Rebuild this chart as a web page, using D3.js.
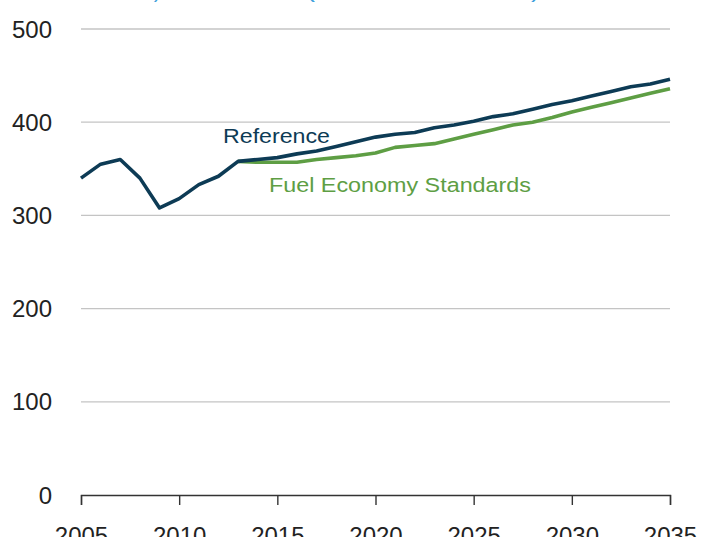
<!DOCTYPE html>
<html><head><meta charset="utf-8">
<script src="https://cdn.jsdelivr.net/npm/d3@7"></script>
<style>body{margin:0;background:#fff}svg{display:block;font-family:"Liberation Sans",Arial,sans-serif}</style>
</head><body><svg id="c" width="712" height="537"></svg>
<script>
const years = d3.range(2005, 2036);
const referenceValues = [340,355,360,340,308,318,333,342,358,360,362,366,369,374,379,384,387,389,394,397,401,406,409,414,419,423,428,433,438,441,446];
const fuelYears = d3.range(2013, 2036);
const fuelEconomyValues = [358,357,357,357,360,362,364,367,373,375,377,382,387,392,397,400,405,411,416,421,426,431,436];
const yTicks = [0,100,200,300,400,500];
const xTicks = [2005,2010,2015,2020,2025,2030,2035];
const titleParts = ["dioxide) emissions", "(million metric tons)"];

const svg = d3.select("#c");
const x = d3.scaleLinear().domain([2005,2035]).range([81,670]);
const y = d3.scaleLinear().domain([0,500]).range([495,29]);

// title (mostly above the visible area)
svg.append("text").attr("x",84).attr("y",-3.5).attr("fill","#3ca0dc").attr("font-size",22).text(titleParts[0]);
svg.append("text").attr("x",306).attr("y",-3.5).attr("fill","#3ca0dc").attr("font-size",22)
  .attr("textLength",234).attr("lengthAdjust","spacingAndGlyphs").text(titleParts[1]);

svg.append("g").selectAll("line").data(yTicks.filter(d=>d>0)).join("line")
  .attr("x1",x(2005)).attr("x2",x(2035)).attr("y1",d=>y(d)).attr("y2",d=>y(d))
  .attr("stroke","#c4c4c4").attr("stroke-width",1.3);

svg.append("g").selectAll("text").data(yTicks).join("text")
  .attr("x",52).attr("y",d=>y(d)).attr("dy","0.36em").attr("text-anchor","end")
  .attr("font-size",24).attr("fill","#222").text(d=>d);

const xAxis = svg.append("g").attr("transform",`translate(0,${y(0)})`)
  .call(d3.axisBottom(x).tickValues(xTicks).tickFormat(d3.format("d")).tickSizeOuter(0).tickSize(10).tickPadding(22));
xAxis.select(".domain").attr("stroke","#333").attr("stroke-width",1.4);
xAxis.selectAll(".tick line").attr("stroke","#333").attr("stroke-width",1.4);
xAxis.selectAll(".tick text").attr("font-size",24).attr("fill","#222").attr("font-family","Liberation Sans, Arial, sans-serif");

const line = d3.line().x(d=>x(d[0])).y(d=>y(d[1]));
svg.append("path").datum(fuelYears.map((yr,i)=>[yr,fuelEconomyValues[i]]))
  .attr("d",line).attr("fill","none").attr("stroke","#5e9e44").attr("stroke-width",3.6).attr("stroke-linejoin","round");
svg.append("path").datum(years.map((yr,i)=>[yr,referenceValues[i]]))
  .attr("d",line).attr("fill","none").attr("stroke","#0d3b55").attr("stroke-width",3.6).attr("stroke-linejoin","round");

svg.append("text").attr("x",223).attr("y",143).attr("font-size",20.5).attr("fill","#0d3b55")
  .attr("textLength",107).attr("lengthAdjust","spacingAndGlyphs").text("Reference");
svg.append("text").attr("x",269).attr("y",191.5).attr("font-size",20.5).attr("fill","#5e9e44")
  .attr("textLength",262).attr("lengthAdjust","spacingAndGlyphs").text("Fuel Economy Standards");
</script></body></html>
